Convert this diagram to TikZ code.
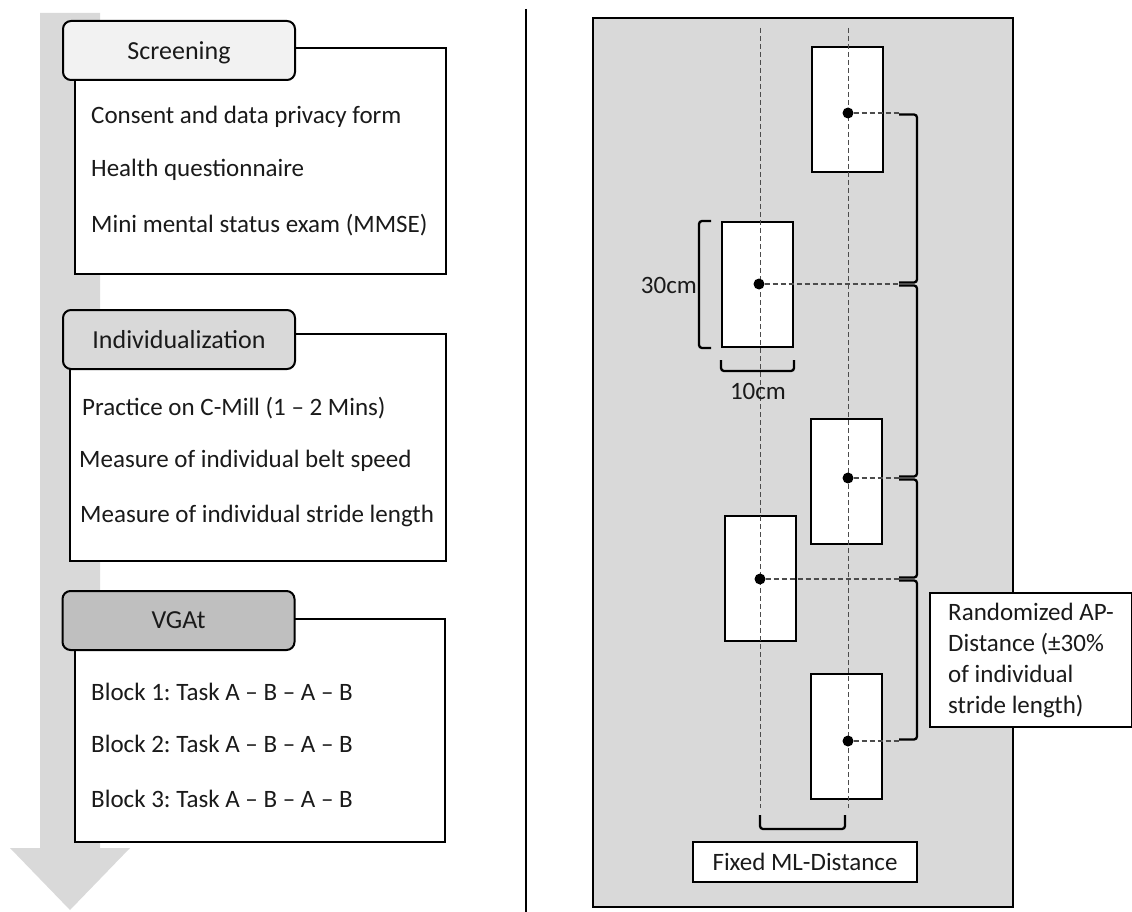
\documentclass[tikz,border=0pt]{standalone}
\usepackage{fontspec}
\setmainfont{Carlito}
\usetikzlibrary{positioning, calc}
\definecolor{belt}{HTML}{D9D9D9}
\definecolor{ink}{HTML}{1A1A1A}
\frenchspacing

\begin{document}
\begin{tikzpicture}[x=1pt, y=-1pt,
    every node/.style={font=\fontsize{25}{31}\selectfont, text=ink},
    panel/.style={draw, line width=2pt, fill=white, anchor=north west, inner sep=0pt},
    head/.style={draw, line width=2pt, rounded corners=8pt, minimum width=232pt, minimum height=59pt,
      inner sep=0pt, text depth=0pt, font=\fontsize{26}{31}\selectfont},
    item/.style={anchor=base west, inner sep=0pt},
    foot/.style={draw, line width=2pt, fill=white, minimum width=71pt, minimum height=125pt, inner sep=0pt},
    dot/.style={circle, fill=black, inner sep=0pt, minimum size=11pt},
    guide/.style={dashed, dash pattern=on 5pt off 3pt, line width=1pt, black!70},
    brk/.style={line width=2.3pt, rounded corners=3pt},
    tag/.style={draw, line width=2pt, fill=white, inner sep=0pt}]
  \useasboundingbox (0,0) rectangle (1132,912);

  % time line
  \fill[belt] (40,13) -- (100,13) -- (100,848) -- (130,848) -- (70,910) -- (10,848) -- (40,848) -- cycle;

  \node[panel, minimum width=371pt, minimum height=226pt] (scr) at (74,47) {};
  \node[head, fill=black!5] (scrhd) at (179,50.5) {Screening};
  \node[item] (scr1) at (91,124) {Consent and data privacy form};
  \node[item] (scr2) at (91,177) {Health questionnaire};
  \node[item] (scr3) at (91,233) {Mini mental status exam (MMSE)};

  \node[panel, minimum width=376pt, minimum height=227pt] (ind) at (69,333) {};
  \node[head, fill=belt] (indhd) at (179,339.5) {Individualization};
  \node[item] (ind1) at (82,415) {Practice on C-Mill (1 – 2 Mins)};
  \node[item] (ind2) at (79,467) {Measure of individual belt speed};
  \node[item] (ind3) at (80,522) {Measure of individual stride length};

  \node[panel, minimum width=370pt, minimum height=223pt] (vga) at (74,618) {};
  \node[head, fill=black!25] (vgahd) at (178.5,620.5) {VGAt};
  \foreach \n/\y in {1/700, 2/752, 3/807}
    \node[item] (vga\n) at (91,\y) {Block \n: Task A – B – A – B};

  \draw[line width=2pt] (526,9) -- (526,912);

  % walkway
  \node[panel, fill=belt, minimum width=420pt, minimum height=889pt] (floor) at (592,17) {};
  \foreach \n/\x/\y in {1/847.5/109.5, 2/757.5/284.5, 3/846/481, 4/760.5/578, 5/846/736.5}
    \node[foot] (f\n) at (\x,\y) {};
  \coordinate (g1t) at (760,28); \coordinate (g1b) at (760,808);
  \coordinate (g2t) at (848,28); \coordinate (g2b) at (848,808);
  \draw[guide] (g1t) -- (g1b);
  \draw[guide] (g2t) -- (g2b);

  \foreach \n/\x/\y in {1/848/113, 2/759/284, 3/848/478, 4/760/579, 5/848/741} {
    \node[dot] (d\n) at (\x,\y) {};
    \coordinate (b\n) at (899,\y);
    \draw[guide, line width=1.5pt] (d\n) -- (b\n);
  }
  \foreach \i/\j in {1/2, 2/3, 3/4, 4/5}
    \draw[brk] ([yshift=-1.5pt]b\i) -| ([xshift=18pt,yshift=1.5pt]b\j) -- ([yshift=1.5pt]b\j);

  \draw[brk] ([xshift=-10pt]f2.north west) -- ++(-12,0) |- ([xshift=-10pt]f2.south west);
  \node[anchor=base east, inner sep=0pt] (l30) at (697,293) {30cm};
  \draw[brk] ([yshift=-12pt]f2.south west) -- ++(0,11) -| ([yshift=-12pt]f2.south east);
  \node[anchor=base, inner sep=0pt] (l10) at (758,399) {10cm};

  \draw[brk] ([yshift=-7pt]g1b) -- ++(0,14) -| ([yshift=-7pt,xshift=-3pt]g2b);
  \node[tag, minimum width=224pt, minimum height=40pt, text depth=0pt] (ml) at (805,862) {Fixed ML-Distance};

  \node[tag, anchor=north west, align=left, minimum width=202pt, minimum height=134pt] (ap)
    at (929,592) {Randomized AP-\\Distance (±30\%\\of individual\\stride length)};
\end{tikzpicture}
\end{document}
